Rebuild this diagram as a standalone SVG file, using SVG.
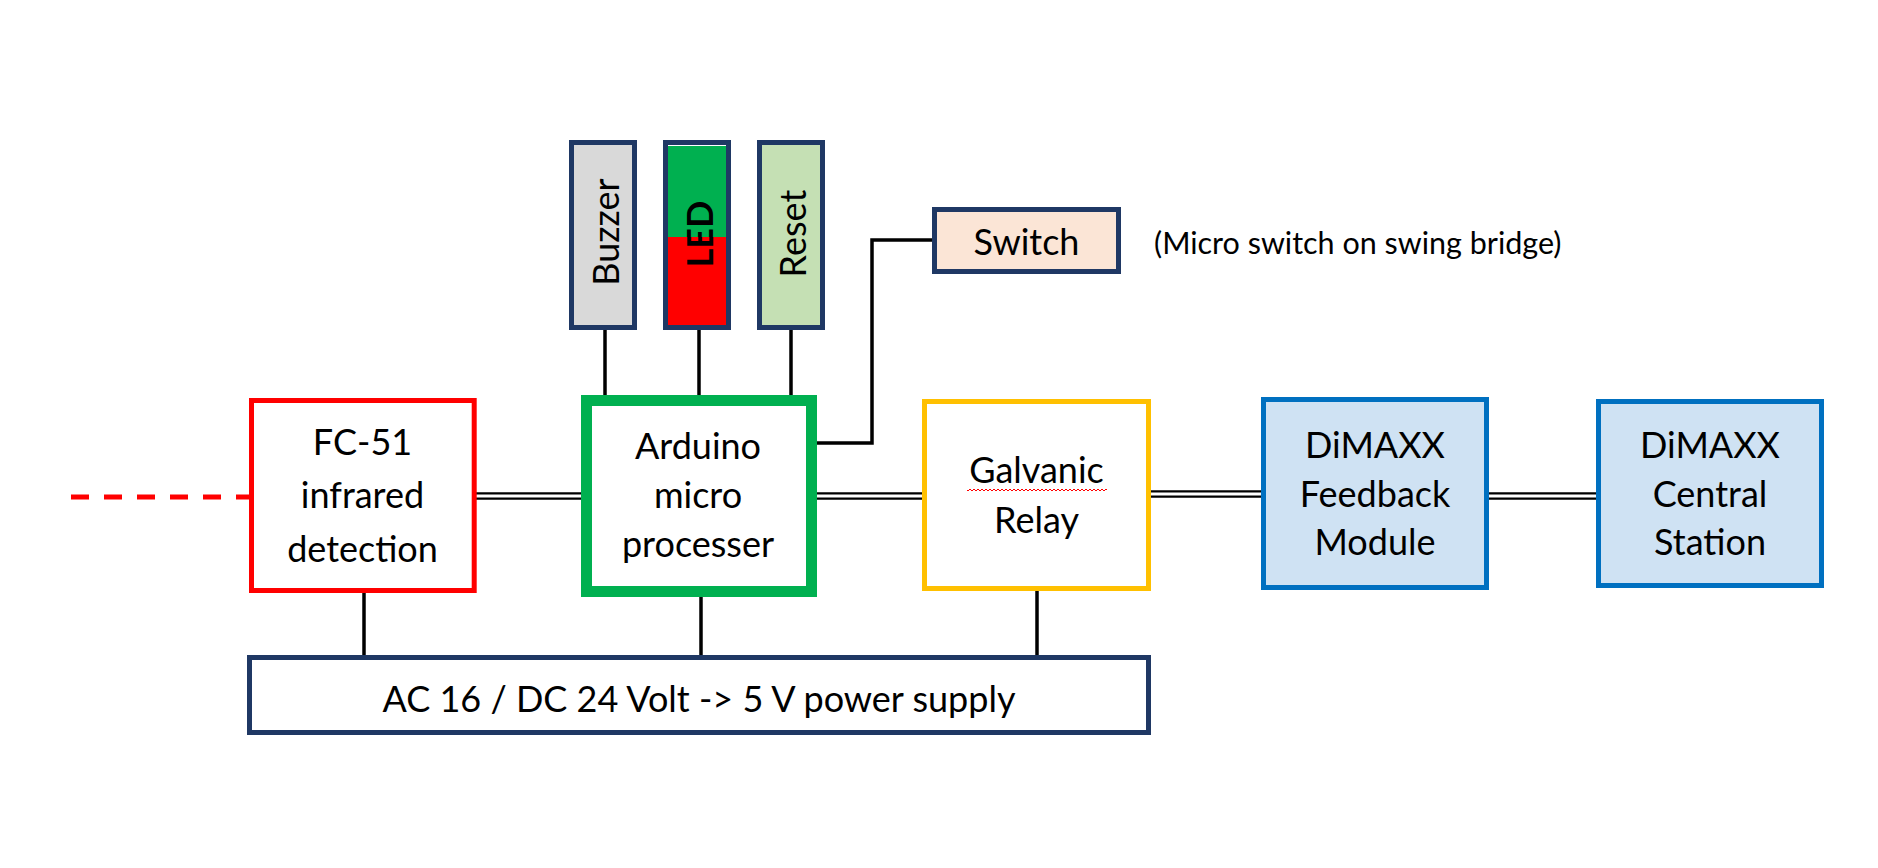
<svg xmlns="http://www.w3.org/2000/svg" width="1878" height="868" viewBox="0 0 1878 868">
  <defs>
    <style>
      .t { font-family: Lato, "Liberation Sans", sans-serif; font-size: 36px; fill: #000; text-anchor: middle; }
      .note { font-family: Lato, "Liberation Sans", sans-serif; font-size: 30.5px; fill: #000; }
      .navy { stroke: #1F3864; stroke-width: 5; }
      .wire { stroke: #000; stroke-width: 3.5; fill: none; }
      .dbl-out { stroke: #000; stroke-width: 7.5; fill: none; }
      .dbl-in { stroke: #fff; stroke-width: 3; fill: none; }
    </style>
    <pattern id="squig" width="4" height="4" patternUnits="userSpaceOnUse">
      <path d="M0 3 L2 1 L4 3" stroke="#FF0000" stroke-width="1" fill="none"/>
    </pattern>
  </defs>
  <rect width="1878" height="868" fill="#fff"/>

  <g id="connectors">
    <line x1="71" y1="497" x2="249" y2="497" stroke="#FF0000" stroke-width="5" stroke-dasharray="18 15"/>
    <g>
      <line class="dbl-out" x1="476" y1="496" x2="582" y2="496"/>
      <line class="dbl-in" x1="476" y1="496" x2="582" y2="496"/>
      <line class="dbl-out" x1="816" y1="496" x2="923" y2="496"/>
      <line class="dbl-in" x1="816" y1="496" x2="923" y2="496"/>
      <line class="dbl-out" x1="1150" y1="494" x2="1262" y2="494"/>
      <line class="dbl-in" x1="1150" y1="494" x2="1262" y2="494"/>
      <line class="dbl-out" x1="1488" y1="496" x2="1597" y2="496"/>
      <line class="dbl-in" x1="1488" y1="496" x2="1597" y2="496"/>
    </g>
    <polyline class="wire" points="811,443 872,443 872,240 934,240"/>
    <line class="wire" x1="605" y1="328" x2="605" y2="396"/>
    <line class="wire" x1="699" y1="328" x2="699" y2="396"/>
    <line class="wire" x1="791" y1="328" x2="791" y2="396"/>
    <line class="wire" x1="364" y1="592" x2="364" y2="656"/>
    <line class="wire" x1="701" y1="596" x2="701" y2="656"/>
    <line class="wire" x1="1037" y1="590" x2="1037" y2="656"/>
  </g>

  <g id="buzzer">
    <rect class="navy" x="571.5" y="142.5" width="63" height="185" fill="#D9D9D9"/>
    <text class="t" transform="translate(619,232) rotate(-90)">Buzzer</text>
  </g>

  <g id="led">
    <rect x="665.5" y="142.5" width="63" height="185" fill="#fff"/>
    <rect x="667" y="146" width="60" height="91" fill="#00B050"/>
    <rect x="667" y="237" width="60" height="89" fill="#FF0000"/>
    <rect class="navy" x="665.5" y="142.5" width="63" height="185" fill="none"/>
    <text class="t" font-weight="bold" transform="translate(713,234) rotate(-90)">LED</text>
  </g>

  <g id="reset">
    <rect class="navy" x="759.5" y="142.5" width="63" height="185" fill="#C5E0B4"/>
    <text class="t" transform="translate(805.5,233.5) rotate(-90)">Reset</text>
  </g>

  <g id="switch">
    <rect class="navy" x="934.5" y="209.5" width="184" height="62" fill="#FBE5D6"/>
    <text class="t" x="1026.5" y="255">Switch</text>
  </g>

  <g id="switch-note">
    <text class="note" x="1154" y="254">(Micro switch on swing bridge)</text>
  </g>

  <g id="fc51">
    <rect x="251.5" y="400.5" width="222.7" height="190" fill="#fff" stroke="#FF0000" stroke-width="5"/>
    <text class="t" x="362.5" y="455">FC-51</text>
    <text class="t" x="362.5" y="508">infrared</text>
    <text class="t" x="362.5" y="562">detection</text>
  </g>

  <g id="arduino">
    <rect x="586.5" y="400.5" width="225" height="191" fill="#fff" stroke="#00B050" stroke-width="11"/>
    <text class="t" x="698" y="459">Arduino</text>
    <text class="t" x="698" y="508">micro</text>
    <text class="t" x="698" y="557">processer</text>
  </g>

  <g id="galvanic-relay">
    <rect x="924.5" y="401.5" width="224" height="187" fill="#fff" stroke="#FFC000" stroke-width="5"/>
    <text class="t" x="1036.5" y="483">Galvanic</text>
    <rect x="967" y="488" width="140" height="4" fill="url(#squig)"/>
    <text class="t" x="1036.5" y="533">Relay</text>
  </g>

  <g id="dimaxx-feedback">
    <rect x="1263.5" y="399.5" width="223" height="188" fill="#CFE2F3" stroke="#0070C0" stroke-width="5"/>
    <text class="t" x="1375" y="458">DiMAXX</text>
    <text class="t" x="1375" y="507">Feedback</text>
    <text class="t" x="1375" y="555">Module</text>
  </g>

  <g id="dimaxx-central">
    <rect x="1598.5" y="401.5" width="223" height="184" fill="#CFE2F3" stroke="#0070C0" stroke-width="5"/>
    <text class="t" x="1710" y="458">DiMAXX</text>
    <text class="t" x="1710" y="507">Central</text>
    <text class="t" x="1710" y="555">Station</text>
  </g>

  <g id="power-supply">
    <rect class="navy" x="249.5" y="657.5" width="899" height="75" fill="#fff"/>
    <text class="t" x="699" y="712">AC 16 / DC 24 Volt -&gt; 5 V power supply</text>
  </g>
</svg>
